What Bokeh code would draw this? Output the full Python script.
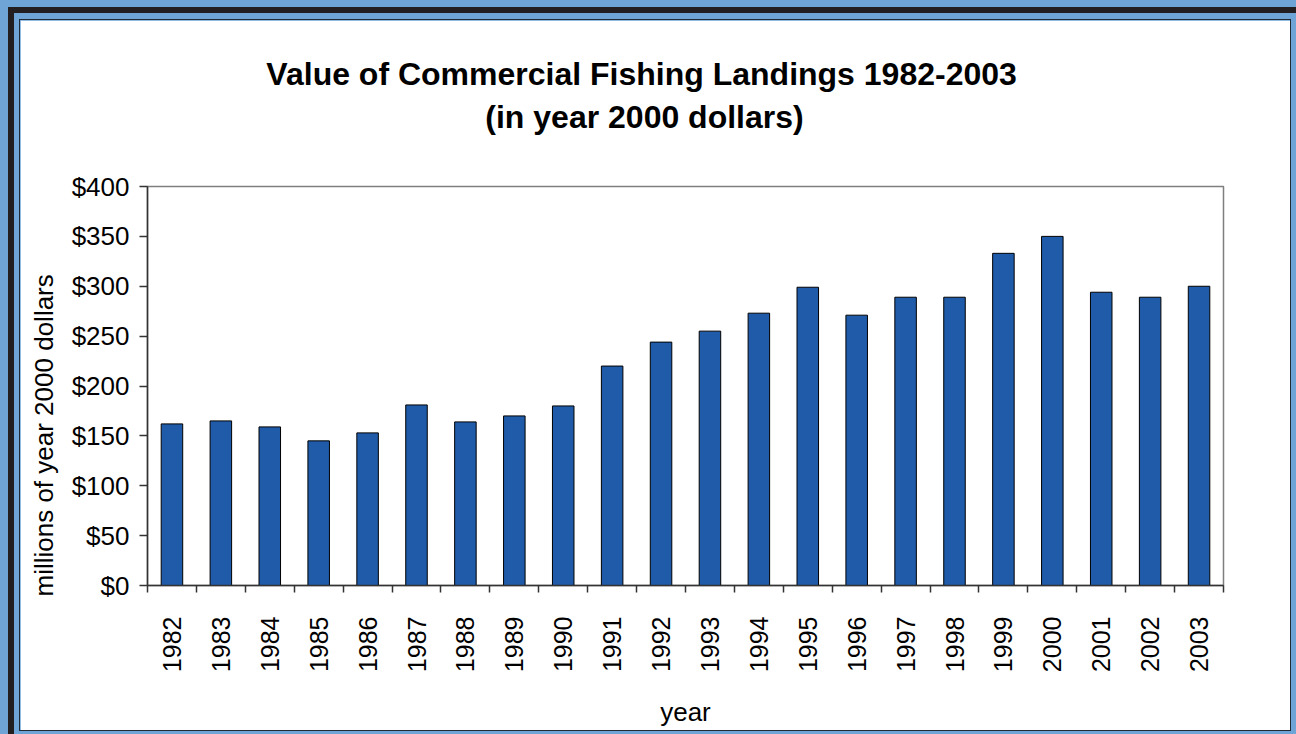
from math import pi
from bokeh.plotting import figure
from bokeh.models import FixedTicker, NumeralTickFormatter, Title, Column
from bokeh.embed import file_html
from bokeh.resources import INLINE

years = ["1982", "1983", "1984", "1985", "1986", "1987", "1988", "1989", "1990", "1991", "1992",
         "1993", "1994", "1995", "1996", "1997", "1998", "1999", "2000", "2001", "2002", "2003"]
values = [162, 165, 159, 145, 153, 181, 164, 170, 180, 220, 244,
          255, 273, 299, 271, 289, 289, 333, 350, 294, 289, 300]
y_ticks = [0, 50, 100, 150, 200, 250, 300, 350, 400]
title_line1 = "Value of Commercial Fishing Landings 1982-2003"
title_line2 = "(in year 2000 dollars)"
y_label = "millions of year 2000 dollars"
x_label = "year"

FONT = "Liberation Sans"
BLUE_BG = "#6fa5d6"
BAR = "#1f5ba8"
AXIS = "#333333"

n = len(years)
centers = [i + 0.5 for i in range(n)]
bounds = [float(i) for i in range(n + 1)]

W, H = 1270, 710
fig = figure(width=W, height=H, x_range=(0, n), y_range=(0, 400),
             output_backend="svg", toolbar_location=None,
             min_border_left=127, min_border_right=67, min_border_top=166, min_border_bottom=144)
fig.border_fill_color = "white"
fig.background_fill_color = "white"
fig.outline_line_color = "#7f7f7f"
fig.outline_line_width = 1.5
fig.xgrid.visible = False
fig.ygrid.visible = False
fig.styles = {"box-shadow": "0 0 0 1px #1e2b37"}

fig.vbar(x=centers, top=values, bottom=0, width=0.44, fill_color=BAR, line_color="black", line_width=1)

# y axis
ya = fig.yaxis[0]
ya.ticker = FixedTicker(ticks=y_ticks)
ya.formatter = NumeralTickFormatter(format="$0")
ya.major_tick_out = 8
ya.major_tick_in = 0
ya.minor_tick_out = 0
ya.minor_tick_in = 0
ya.major_label_standoff = 10
ya.major_label_text_font = FONT
ya.major_label_text_font_size = "26px"
ya.major_label_text_color = "black"
ya.axis_line_color = AXIS
ya.axis_line_width = 1.5
ya.major_tick_line_color = AXIS
ya.major_tick_line_width = 1.5

# x axis: ticks at category boundaries, labels at category centres
xa = fig.xaxis[0]
xa.ticker = FixedTicker(ticks=centers, minor_ticks=bounds)
xa.major_label_overrides = {c: y for c, y in zip(centers, years)}
xa.major_tick_out = 0
xa.major_tick_in = 0
xa.minor_tick_out = 7
xa.minor_tick_in = 0
xa.minor_tick_line_color = AXIS
xa.minor_tick_line_width = 1.5
xa.major_label_orientation = pi / 2
xa.major_label_standoff = 24
xa.major_label_text_font = FONT
xa.major_label_text_font_size = "25px"
xa.major_label_text_color = "black"
xa.axis_line_color = AXIS
xa.axis_line_width = 1.5
xa.axis_label = x_label
xa.axis_label_text_font = FONT
xa.axis_label_text_font_size = "26px"
xa.axis_label_text_font_style = "normal"
xa.axis_label_text_color = "black"
xa.axis_label_standoff = 22

# y axis label as a side title
fig.add_layout(Title(text=y_label, align="left", offset=-11, vertical_align="top", text_font=FONT,
                     text_font_size="26px", text_font_style="normal", text_color="black", standoff=16), "left")

# two-line title: spacer nearest the frame, then line 2, then line 1 (figure title, outermost)
TF = 32
fig.add_layout(Title(text=" ", text_font_size="1px", standoff=49), "above")
fig.add_layout(Title(text=title_line2, align="left", offset=644 - 9.949 * TF / 2 - 147, text_font=FONT,
                     text_font_size=f"{TF}px", text_font_style="bold", text_color="black", standoff=0), "above")
fig.title.text = title_line1
fig.title.align = "left"
fig.title.offset = 642 - 23.508 * TF / 2 - 147
fig.title.text_font = FONT
fig.title.text_font_size = f"{TF}px"
fig.title.text_font_style = "bold"
fig.title.text_color = "black"
fig.title.standoff = 9

p = Column(children=[fig], styles={
    "background-color": BLUE_BG,
    "padding": "20px 6px 4px 20px",
    "box-shadow": f"inset 8px 7px 0 0 {BLUE_BG}, inset 14px 13px 0 0 #231f20",
})

open("out.html", "w").write(file_html(p, INLINE))
